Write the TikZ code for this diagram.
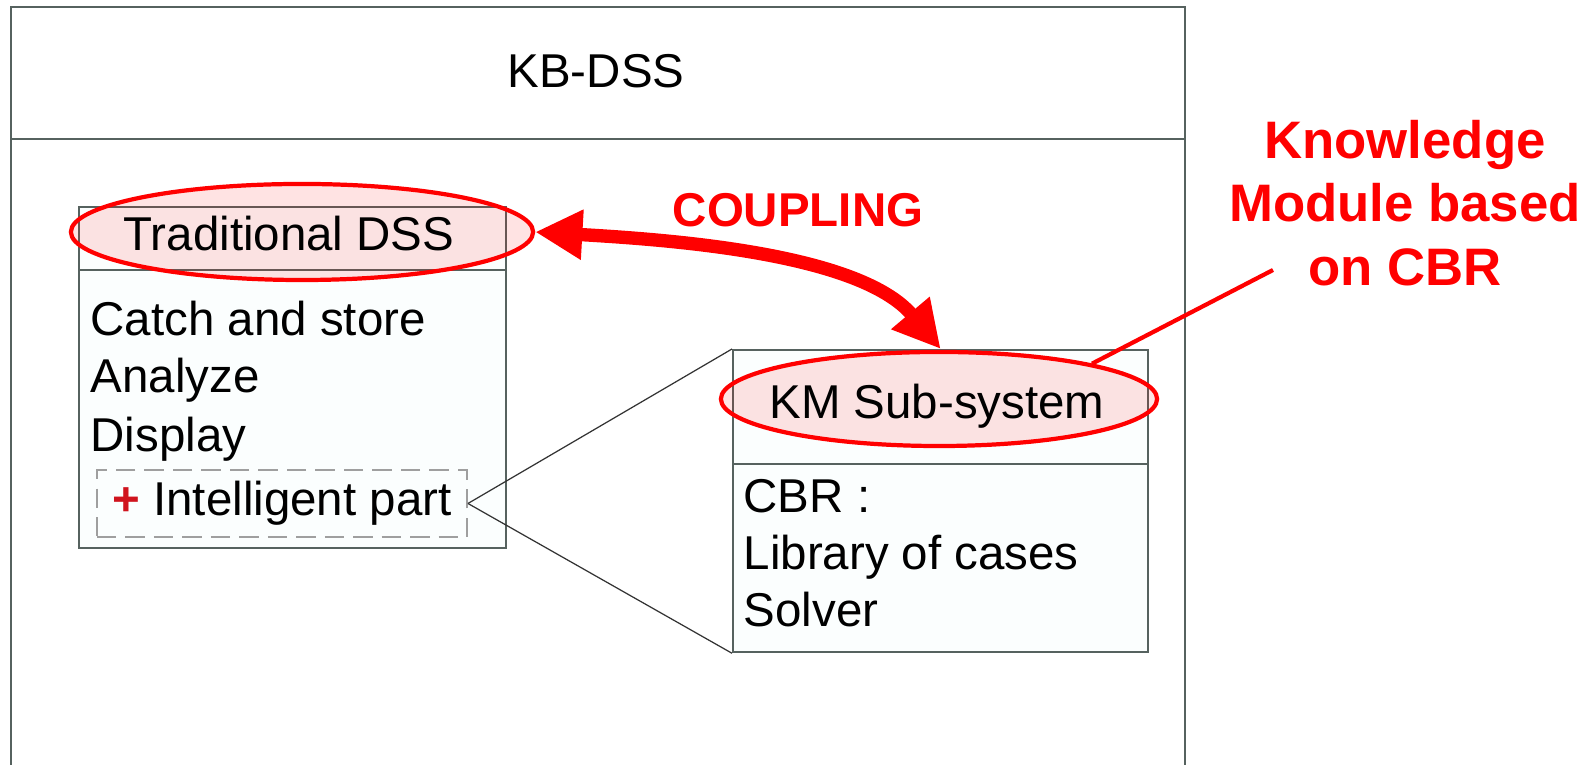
\documentclass[tikz,border=0pt]{standalone}
\usepackage{fontspec}
\setmainfont{Liberation Sans}
\usetikzlibrary{positioning,arrows.meta,shapes.geometric}
\definecolor{boxline}{HTML}{56625F}
\definecolor{boxfill}{HTML}{FBFEFE}
\definecolor{hotred}{HTML}{FF0000}
\definecolor{plusred}{HTML}{D0141E}

\begin{document}
\begin{tikzpicture}[x=0.01cm, y=-0.01cm]
    % Define styles
    \tikzstyle{umlbox} = [rectangle, draw=boxline, fill=boxfill, line width=0.6pt, anchor=north west, inner sep=0pt]
    \tikzstyle{divider} = [draw=boxline, line width=0.6pt]
    \tikzstyle{ring} = [ellipse, draw=hotred, line width=1.2pt, fill=hotred, fill opacity=0.11, inner sep=0pt]
    \tikzstyle{boxtitle} = [anchor=base, inner sep=0pt, font=\fontsize{13.5}{16}\selectfont]
    \tikzstyle{item} = [anchor=base west, inner sep=0pt, font=\fontsize{13.5}{16}\selectfont]
    \tikzstyle{dashbox} = [rectangle, draw=gray!75, dashed, dash pattern=on 5.5pt off 2.6pt, line width=0.5pt, minimum width=3.7cm, minimum height=0.67cm, inner sep=0pt, font=\fontsize{13.5}{16}\selectfont]
    \tikzstyle{zoomline} = [draw=black!80, line width=0.35pt]
    \tikzstyle{coupling} = [draw=hotred, line width=3.8pt, {Triangle[length=13.4pt,width=13.4pt]}-{Triangle[length=13.4pt,width=13.4pt]}]
    \tikzstyle{callout} = [draw=hotred, line width=1.2pt]
    \tikzstyle{note} = [text=hotred, font=\bfseries\fontsize{15}{18}\selectfont, align=center, inner sep=0pt]

    \useasboundingbox (0,0) rectangle (1596,765);

    % Outer KB-DSS frame
    \fill[white] (11,7) rectangle (1185,800);
    \draw[divider] (11,800) -- (11,7) -- (1185,7) -- (1185,800);
    \draw[divider] (11,139) -- (1185,139);
    \node[boxtitle] (kbdss) at (596,88) {KB-DSS};

    % Traditional DSS
    \node[umlbox, minimum width=4.27cm, minimum height=3.41cm] (tdssbox) at (78,206) {};
    \draw[divider] (78,270) -- (505,270);
    \node[ring, minimum width=4.62cm, minimum height=0.96cm] (tdssring) at (302,232) {};
    \node[boxtitle] (tdsstitle) at (289,251) {Traditional DSS};
    \node[item] (catch) at (90,336) {Catch and store};
    \node[item] (analyze) at (90,393) {Analyze};
    \node[item] (display) at (90,452) {Display};
    \node[dashbox] (intel) at (282,503.5) {{\color{plusred}\bfseries +} Intelligent part};

    % KM Sub-system
    \node[umlbox, minimum width=4.15cm, minimum height=3.02cm] (kmbox) at (732,349) {};
    \draw[divider] (732,464) -- (1147,464);
    \node[ring, minimum width=4.36cm, minimum height=0.94cm] (kmring) at (939,399) {};
    \node[boxtitle] (kmtitle) at (937,419) {KM Sub-system};
    \node[item] (cbr) at (743,513) {CBR :};
    \node[item] (library) at (743,570) {Library of cases};
    \node[item] (solver) at (743,627) {Solver};

    % Zoom lines
    \draw[zoomline] (intel.east) -- (kmbox.north west);
    \draw[zoomline] (intel.east) -- (kmbox.south west);

    % Coupling
    \draw[coupling] (tdssring.east) .. controls +(140,8) and +(-80,-95) .. (kmbox.north);
    \node[anchor=base, inner sep=0pt, text=hotred, font=\bfseries\fontsize{13.5}{16}\selectfont] (couplabel) at (798,227) {COUPLING};

    % Note
    \node[note] (kmnote) at (1405,203) {Knowledge\\Module based\\on CBR};
    \coordinate (noteend) at (1273,270);
    \draw[callout] (noteend) -- (kmring.13);

\end{tikzpicture}
\end{document}
